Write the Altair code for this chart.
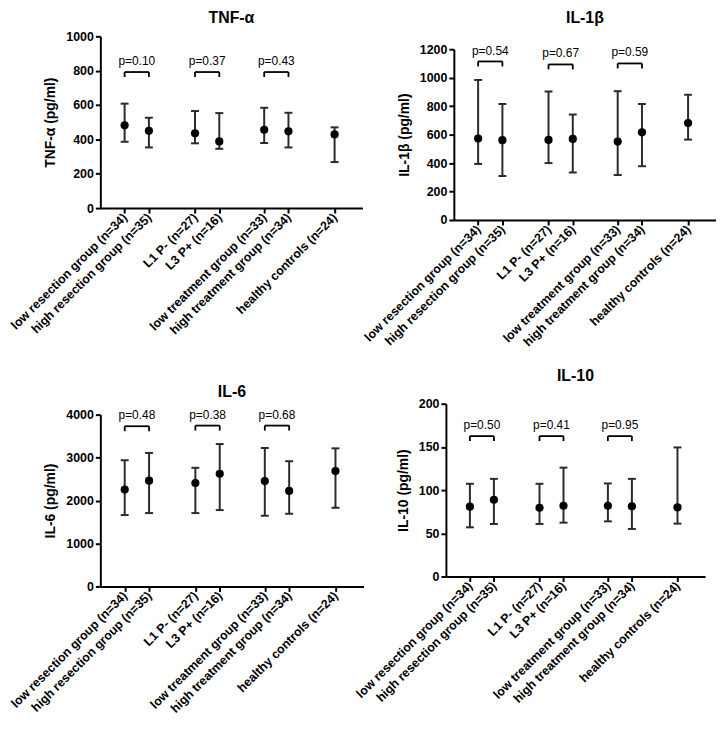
import altair as alt
import pandas as pd

# ---------------- data ----------------
groups = [
    "low resection group (n=34)",
    "high resection group (n=35)",
    "L1 P- (n=27)",
    "L3 P+ (n=16)",
    "low treatment group (n=33)",
    "high treatment group (n=34)",
    "healthy controls (n=24)",
]
pair_left = [0, 2, 4]
pair_right = [1, 3, 5]

tnf_mean = [482, 450, 435, 388, 456, 447, 429]
tnf_low = [386, 353, 377, 345, 379, 353, 268]
tnf_high = [608, 526, 565, 553, 584, 555, 470]
tnf_p = ["p=0.10", "p=0.37", "p=0.43"]
tnf_bracket = [792, 792, 792]
tnf_ticks = [0, 200, 400, 600, 800, 1000]

il1_mean = [572, 561, 563, 570, 551, 616, 681]
il1_low = [394, 309, 400, 334, 316, 378, 565]
il1_high = [984, 815, 903, 741, 905, 815, 880]
il1_p = ["p=0.54", "p=0.67", "p=0.59"]
il1_bracket = [1114, 1093, 1100]
il1_ticks = [0, 200, 400, 600, 800, 1000, 1200]

il6_mean = [2254, 2462, 2408, 2623, 2454, 2223, 2685]
il6_low = [1662, 1708, 1708, 1777, 1646, 1692, 1831]
il6_high = [2938, 3108, 2762, 3315, 3223, 2915, 3215]
il6_p = ["p=0.48", "p=0.38", "p=0.68"]
il6_bracket = [3730, 3745, 3745]
il6_ticks = [0, 1000, 2000, 3000, 4000]

il10_mean = [80.8, 88.8, 79.6, 81.9, 81.9, 81.2, 80.0]
il10_low = [56.9, 60.8, 60.8, 62.3, 63.8, 55.0, 61.2]
il10_high = [107.3, 113.0, 107.3, 126.0, 107.7, 113.0, 149.4]
il10_p = ["p=0.50", "p=0.41", "p=0.95"]
il10_bracket = [162.5, 162.5, 162.5]
il10_ticks = [0, 50, 100, 150, 200]

# ---------------- layout / style ----------------
x_pos = [1, 2, 3.9, 4.9, 6.75, 7.75, 9.65]
x_domain = [0, 10.8]
FONT = "Liberation Sans"
BAR = "#2b2b2b"

label_expr = " : ".join(
    f"datum.value == {x} ? '{g}'" for x, g in zip(x_pos, groups)
) + " : ''"


def panel(title, ytitle, mean, low, high, pvals, brackets, ticks,
          width, height, pad, title_offset):
    df = pd.DataFrame({"x": x_pos, "group": groups, "mean": mean,
                       "low": low, "high": high})
    bd = pd.DataFrame({
        "x1": [x_pos[i] for i in pair_left],
        "x2": [x_pos[i] for i in pair_right],
        "y": brackets,
        "p": pvals,
    })
    bd["xm"] = (bd["x1"] + bd["x2"]) / 2

    if pad:
        yscale = alt.Scale(domain=[0, ticks[-1]], range=[height, pad], nice=False)
    else:
        yscale = alt.Scale(domain=[0, ticks[-1]], nice=False)
    xscale = alt.Scale(domain=x_domain, nice=False, zero=False)

    xaxis = alt.Axis(values=x_pos, labelExpr=label_expr, labelAngle=315,
                     labelAlign="right", labelBaseline="middle",
                     labelFont=FONT, labelFontSize=12.5, labelFontWeight="bold",
                     labelColor="black", labelOverlap=False, labelFlush=False,
                     labelPadding=2, title=None, grid=False,
                     domainColor="black", domainWidth=2,
                     tickColor="black", tickWidth=2, tickSize=5)
    yaxis = alt.Axis(values=ticks, title=ytitle, grid=False, format="d",
                     labelFont=FONT, labelFontSize=12.5, labelFontWeight="bold",
                     labelColor="black", labelPadding=2,
                     titleFont=FONT, titleFontSize=14, titleFontWeight="bold",
                     titleColor="black", titlePadding=8,
                     domainColor="black", domainWidth=2,
                     tickColor="black", tickWidth=2, tickSize=5)

    def X(f):
        return alt.X(f, type="quantitative", scale=xscale, axis=xaxis)

    def Y(f):
        return alt.Y(f, type="quantitative", scale=yscale, axis=yaxis)

    base = alt.Chart(df)
    bars = base.mark_rule(color=BAR, strokeWidth=2).encode(
        x=X("x"), y=Y("low"), y2="high")
    cap_lo = base.mark_tick(orient="horizontal", size=8, thickness=2,
                            color=BAR, opacity=1).encode(x=X("x"), y=Y("low"))
    cap_hi = base.mark_tick(orient="horizontal", size=8, thickness=2,
                            color=BAR, opacity=1).encode(x=X("x"), y=Y("high"))
    pts = base.mark_circle(size=68, color="black", opacity=1).encode(
        x=X("x"), y=Y("mean"))

    b = alt.Chart(bd)
    bh = b.mark_rule(color="black", strokeWidth=1.8).encode(
        x=X("x1"), x2="x2", y=Y("y"))
    bl = b.mark_rule(color="black", strokeWidth=1.8, y2Offset=5).encode(
        x=X("x1"), y=Y("y"), y2="y")
    br = b.mark_rule(color="black", strokeWidth=1.8, y2Offset=5).encode(
        x=X("x2"), y=Y("y"), y2="y")
    bt = b.mark_text(font=FONT, fontSize=12, color="black", fill="black",
                     dy=-11).encode(x=X("xm"), y=Y("y"), text="p:N")

    return alt.layer(bars, cap_lo, cap_hi, pts, bh, bl, br, bt).properties(
        width=width, height=height,
        title=alt.TitleParams(title, font=FONT, fontSize=16, fontWeight="bold",
                              color="black", anchor="middle",
                              offset=title_offset),
    )


p1 = panel("TNF-α", "TNF-α (pg/ml)", tnf_mean, tnf_low, tnf_high, tnf_p,
           tnf_bracket, tnf_ticks, 264, 173, 0, 4)
p2 = panel("IL-1β", "IL-1β (pg/ml)", il1_mean, il1_low, il1_high, il1_p,
           il1_bracket, il1_ticks, 264, 185, 13, 10)
p3 = panel("IL-6", "IL-6 (pg/ml)", il6_mean, il6_low, il6_high, il6_p,
           il6_bracket, il6_ticks, 265, 184, 11, 4)
p4 = panel("IL-10", "IL-10 (pg/ml)", il10_mean, il10_low, il10_high, il10_p,
           il10_bracket, il10_ticks, 261, 174, 0, 14)

row1 = alt.hconcat(p1, p2, spacing=92, bounds="flush")
row2 = alt.hconcat(p3, p4, spacing=83, bounds="flush")
chart = alt.vconcat(row1, row2, spacing=370, bounds="flush",
                    padding=0).configure_view(stroke=None)

chart.save("out.html", embed_options={"renderer": "svg", "actions": False})
